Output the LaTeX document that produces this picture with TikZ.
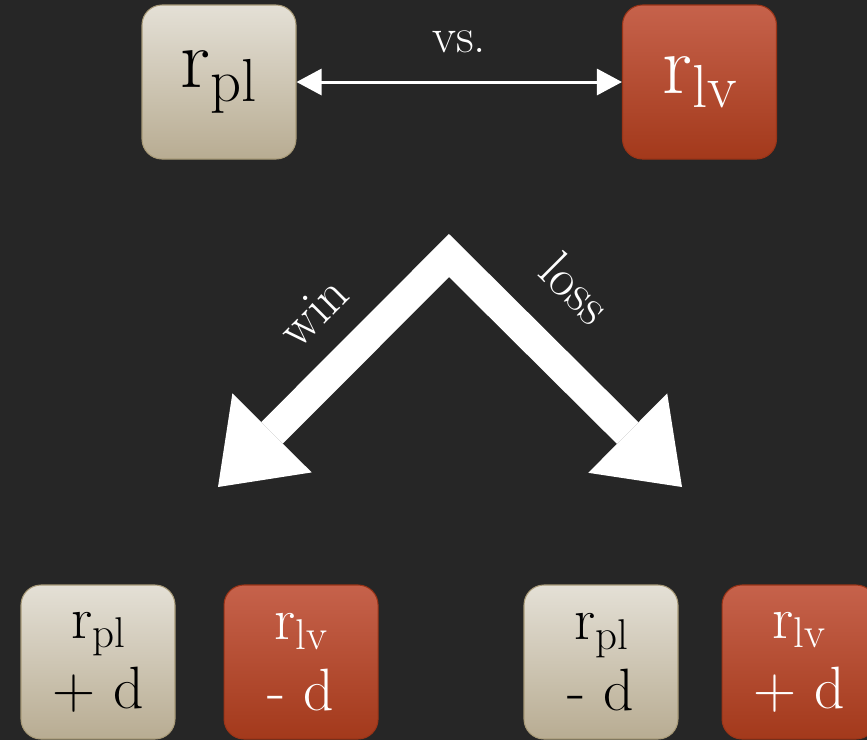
\documentclass[tikz,border=0pt]{standalone}
\usepackage{graphicx}
\usepackage{xcolor}
\usetikzlibrary{positioning,arrows.meta}
\definecolor{bgDark}{HTML}{262626}
\definecolor{plTop}{HTML}{E4E0D6}
\definecolor{plBot}{HTML}{B8AC92}
\definecolor{plEdge}{HTML}{A89A78}
\definecolor{lvTop}{HTML}{C6624B}
\definecolor{lvBot}{HTML}{A3391B}
\definecolor{lvEdge}{HTML}{9A3417}
\tikzset{
  tile/.style={rounded corners=4mm, minimum width=30.8mm, minimum height=30.8mm,
               inner sep=0pt, line width=0.6pt, align=center},
  pl/.style={tile, draw=plEdge, top color=plTop, bottom color=plBot, text=black},
  lv/.style={tile, draw=lvEdge, top color=lvTop, bottom color=lvBot, text=white},
  big/.style={font=\fontsize{48}{52}\selectfont},
  small/.style={font=\fontsize{34}{40}\selectfont},
  lbl/.style={text=white, font=\fontsize{30}{34}\selectfont, inner sep=0pt},
  duel/.style={{Triangle[length=5mm,width=5.2mm]}-{Triangle[length=5mm,width=5.2mm]},
               white, line width=0.6mm},
  fork/.style={white, line width=6.1mm, line join=miter,
               {Triangle[length=15.3mm,width=22.4mm,line width=0pt]}-{Triangle[length=15.3mm,width=22.4mm,line width=0pt]}},
}
\newcommand{\lowsub}[1]{\raisebox{-0.38ex}{\scalebox{0.72}{#1}}}
\newcommand{\rpl}{r\lowsub{pl}}
\newcommand{\rlv}{r\lowsub{lv}}

\begin{document}
\begin{tikzpicture}

\useasboundingbox (0,0) rectangle (17.34,-14.8);
\fill[bgDark] (0,0) rectangle (17.34,-14.8);

%% ── the match ─────────────────────────────────────────────────────────────
\node[pl, big] (player) at (4.38,-1.64) {\rpl};
\node[lv, big] (level)  at (13.99,-1.64) {\rlv};
\draw[duel] (player.east) -- node[lbl, font=\fontsize{28}{30}\selectfont,
                                  above=5.6mm] {vs.} (level.west);

%% ── outcome fork ──────────────────────────────────────────────────────────
\coordinate (apex) at (8.98,-5.11);
\coordinate (winEnd) at (4.36,-9.74);
\coordinate (lossEnd) at (13.64,-9.74);
\draw[fork] (winEnd) -- (apex) -- (lossEnd);
\node[lbl, rotate=45]  (win)  at (6.26,-6.24) {win};
\node[lbl, rotate=-45] (loss) at (11.52,-5.76) {loss};

%% ── updated ratings ───────────────────────────────────────────────────────
\node[pl, small] (plWin) at (1.96,-13.24) {\rpl\\+ d};
\node[lv, small, right=0.96cm of plWin] (lvWin) {\rlv\\- d};
\node[pl, small] (plLoss) at (12.02,-13.24) {\rpl\\- d};
\node[lv, small, right=0.86cm of plLoss] (lvLoss) {\rlv\\+ d};

\end{tikzpicture}
\end{document}
